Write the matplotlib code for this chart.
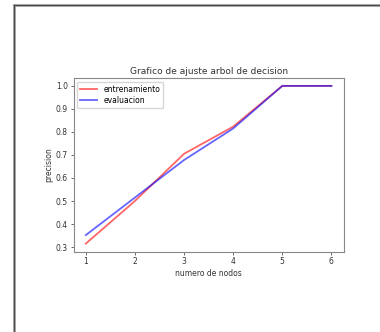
import numpy as np
import matplotlib
matplotlib.use('Agg')
import matplotlib.pyplot as plt
from matplotlib.lines import Line2D

# datos
nodos = [1, 2, 3, 4, 5, 6]
entrenamiento = [0.315, 0.50, 0.705, 0.823, 1.0, 1.0]
evaluacion = [0.352, 0.515, 0.678, 0.815, 1.0, 1.0]
yticks = [0.3, 0.4, 0.5, 0.6, 0.7, 0.8, 0.9, 1.0]

fig = plt.figure(figsize=(3.8, 3.32), dpi=100)
W, H = 380, 332

# marco gris de la captura (izquierda y arriba)
fig.add_artist(Line2D([13.5 / W, 13.5 / W], [0, 1 - 4.5 / H], color='#bdbdbd', lw=2.2))
fig.add_artist(Line2D([13.5 / W, 1], [1 - 4.5 / H, 1 - 4.5 / H], color='#bdbdbd', lw=2.2))
fig.add_artist(Line2D([14 / W, 14 / W], [0, 1 - 5 / H], color='#4a4a4a', lw=1.0))
fig.add_artist(Line2D([14 / W, 1], [1 - 5 / H, 1 - 5 / H], color='#4a4a4a', lw=1.0))

ax = fig.add_axes([73.5 / W, 1 - 251.5 / H, (343.7 - 73.5) / W, (251.5 - 78) / H])
ax.plot(nodos, entrenamiento, color='red', alpha=0.6, lw=1.3, label='entrenamiento')
ax.plot(nodos, evaluacion, color='blue', alpha=0.6, lw=1.3, label='evaluacion')

ax.set_xticks(nodos)
ax.set_yticks(yticks)
ax.set_yticklabels(['%.1f' % v for v in yticks])
ax.tick_params(labelsize=5.5, length=2, width=0.5, pad=2, colors='#333333')
for s in ax.spines.values():
    s.set_linewidth(0.8)
    s.set_color('#888888')

ax.set_title('Grafico de ajuste arbol de decision', fontsize=6.5, color='#333333', pad=3)
ax.set_xlabel('numero de nodos', fontsize=5.5, color='#333333', labelpad=2)
ax.set_ylabel('precision', fontsize=5.5, color='#333333', labelpad=2)
ax.legend(loc='upper left', fontsize=5.5, handlelength=2.2, borderpad=0.4,
          labelspacing=0.3, framealpha=0.8)

fig.savefig('out.png', dpi=100)
